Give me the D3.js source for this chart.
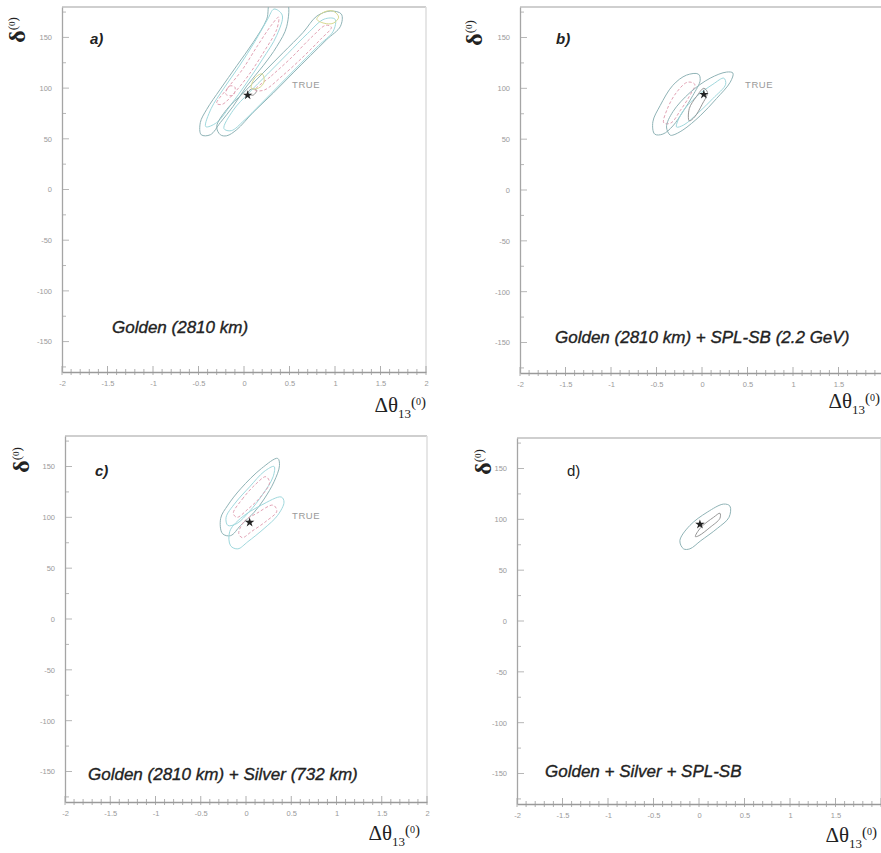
<!DOCTYPE html>
<html><head><meta charset="utf-8">
<script src="https://cdn.jsdelivr.net/npm/d3@7"></script>
<style>body{margin:0;background:#fff} svg{display:block}</style>
</head><body><svg id="c" width="881" height="853"></svg>
<script>
// ---------------- DATA ----------------
const xTicks = [-2, -1.5, -1, -0.5, 0, 0.5, 1, 1.5, 2];
const xTickLabels = ["-2", "-1.5", "-1", "-0.5", "0", "0.5", "1", "1.5", "2"];
const yTicks = [-150, -100, -50, 0, 50, 100, 150];
const yTickLabels = ["-150", "-100", "-50", "0", "50", "100", "150"];
const panelLabels = ["a)", "b)", "c)", "d)"];
const captions = ["Golden (2810 km)", "Golden (2810 km)  + SPL-SB (2.2 GeV)",
                  "Golden (2810 km) + Silver (732 km)", "Golden + Silver + SPL-SB"];
const truePoints = [[0.04, 93], [0.02, 94], [0.04, 95], [0.01, 95]];
const trueLabel = ["TRUE", "TRUE", "TRUE", ""];

// contour curves [Δθ13, δ]
const aLeftOuter = [[-0.47,54],[-0.48,66],[-0.41,79],[-0.26,99],[-0.08,122],[0.10,145],[0.25,168],[0.29,185],[0.47,185],[0.47,161],[0.36,141],[0.21,122],[0.03,102],[-0.12,82],[-0.26,66],[-0.37,54]];
const aLeftMid = [[-0.42,62],[-0.36,80],[-0.22,100],[-0.05,122],[0.12,146],[0.26,168],[0.33,178],[0.42,172],[0.36,152],[0.20,128],[0.02,104],[-0.14,84],[-0.30,66]];
const aLeftInner = [[-0.30,85],[-0.18,100],[-0.02,118],[0.15,142],[0.30,162],[0.38,170],[0.36,158],[0.22,136],[0.06,114],[-0.10,96],[-0.24,84]];
const aLoop1 = [[-0.20,94],[-0.16,102],[-0.10,101],[-0.12,93]];
const aLoop2 = [[0.04,95],[0.08,99],[0.14,98],[0.10,93]];
const aRightOuter = [[-0.26,54],[-0.30,62],[-0.19,79],[-0.01,95],[0.21,115],[0.43,135],[0.65,155],[0.80,171],[0.95,176],[1.07,173],[1.06,161],[0.91,148],[0.73,132],[0.54,115],[0.32,95],[0.10,76],[-0.08,59],[-0.19,53]];
const aRightMid = [[-0.22,60],[-0.12,78],[0.05,95],[0.26,114],[0.48,134],[0.70,154],[0.88,168],[1.00,168],[0.98,156],[0.82,142],[0.62,124],[0.40,104],[0.18,84],[0.00,68],[-0.14,58]];
const aRightInner = [[0.12,98],[0.30,112],[0.52,130],[0.74,150],[0.90,162],[0.96,160],[0.84,148],[0.64,130],[0.42,112],[0.22,98]];
const aYellowTop = [[0.80,168],[0.88,175],[0.98,176],[1.04,170],[0.98,164],[0.88,164]];
const aYellowMid = [[0.08,100],[0.12,110],[0.20,114],[0.22,106],[0.16,100]];

const bLeftOuter = [[-0.52,55],[-0.54,67],[-0.46,83],[-0.32,103],[-0.17,113],[-0.04,114],[-0.02,108],[-0.10,93],[-0.21,77],[-0.32,63],[-0.43,55]];
const bLeftInner = [[-0.42,66],[-0.38,80],[-0.28,96],[-0.16,106],[-0.08,104],[-0.14,92],[-0.24,78],[-0.34,66]];
const bRightOuter = [[-0.35,54],[-0.39,62],[-0.32,77],[-0.13,96],[0.09,110],[0.27,116],[0.34,115],[0.31,106],[0.16,90],[-0.02,73],[-0.21,59],[-0.32,54]];
const bRightMid = [[-0.28,62],[-0.22,76],[-0.06,92],[0.12,104],[0.24,110],[0.26,104],[0.12,90],[-0.04,76],[-0.20,64]];
const bRightInner = [[-0.14,68],[-0.14,80],[-0.06,92],[0.02,100],[0.06,96],[0.00,84],[-0.08,72]];

const cUpperOuter = [[-0.28,99],[-0.20,112],[-0.06,128],[0.17,148],[0.35,158],[0.37,151],[0.31,135],[0.20,118],[0.09,105],[-0.06,92],[-0.17,82],[-0.26,84]];
const cUpperMid = [[-0.22,100],[-0.12,114],[0.04,130],[0.20,145],[0.31,150],[0.30,140],[0.18,122],[0.04,106],[-0.10,94],[-0.20,92]];
const cUpperInner = [[-0.14,104],[-0.04,118],[0.10,132],[0.22,140],[0.26,134],[0.16,120],[0.02,108],[-0.10,100]];
const cLowerOuter = [[-0.17,72],[-0.18,86],[-0.06,99],[0.17,112],[0.39,120],[0.42,115],[0.35,102],[0.20,89],[0.02,76],[-0.09,69]];
const cLowerInner = [[-0.08,84],[-0.02,96],[0.12,104],[0.30,112],[0.34,106],[0.22,96],[0.06,86],[-0.04,80]];

const dOuter = [[-0.17,71],[-0.21,79],[-0.10,94],[0.09,107],[0.27,115],[0.34,113],[0.33,102],[0.20,91],[0.02,79],[-0.10,71]];
const dInner = [[-0.04,83],[0.02,92],[0.16,102],[0.23,106],[0.23,101],[0.12,92],[0.00,84]];

const panelContours = [
  [["outer", aLeftOuter], ["mid", aLeftMid], ["inner", aLeftInner], ["inner", aLoop1], ["dark", aLoop2],
   ["outer", aRightOuter], ["mid", aRightMid], ["inner", aRightInner], ["yellow", aYellowTop], ["yellow", aYellowMid]],
  [["outer", bLeftOuter], ["inner", bLeftInner], ["outer", bRightOuter], ["mid", bRightMid], ["dark", bRightInner]],
  [["outer", cUpperOuter], ["mid", cUpperMid], ["inner", cUpperInner], ["mid", cLowerOuter], ["inner", cLowerInner]],
  [["outer", dOuter], ["dark", dInner]]
];

// ---------------- LAYOUT / STYLE ----------------
const panels = [
  {x0: 62, x1: 426, y0: 372, y1: 7, lab: [90, 44], cap: [112, 333], tru: [292, 88],
   yt: [25, 30], xt: [426, 412]},
  {x0: 520, x1: 884, y0: 373, y1: 7, lab: [556, 44], cap: [555, 343], tru: [745, 88],
   yt: [482, 33], xt: [880, 408]},
  {x0: 65, x1: 427, y0: 802, y1: 436, lab: [95, 476], cap: [88, 780], tru: [292, 519],
   yt: [29, 460], xt: [420, 840]},
  {x0: 517, x1: 881, y0: 804, y1: 438, lab: [567, 476], cap: [545, 777], tru: [0, 0],
   yt: [491, 462], xt: [877, 842]}
];
const styles = {
  outer: {stroke: "#8fb3b6", dash: null, w: 1},
  mid: {stroke: "#9fd8dd", dash: null, w: 1},
  inner: {stroke: "#e2a2b4", dash: "3,2", w: 1},
  yellow: {stroke: "#d7d98f", dash: null, w: 1},
  dark: {stroke: "#8a8a8a", dash: null, w: 0.9}
};

const svg = d3.select("#c");

panels.forEach((p, i) => {
  const x = d3.scaleLinear().domain([-2, 2]).range([p.x0, p.x1]);
  const y = d3.scaleLinear().domain([-180, 180]).range([p.y0, p.y1]);
  const g = svg.append("g");

  const clipId = "clip" + i;
  svg.append("clipPath").attr("id", clipId).append("rect")
    .attr("x", p.x0).attr("y", p.y1).attr("width", p.x1 - p.x0).attr("height", p.y0 - p.y1);

  // frame (top and right, light)
  g.append("line").attr("x1", p.x0).attr("x2", p.x1).attr("y1", p.y1).attr("y2", p.y1)
    .attr("stroke", "#cfcfcf").attr("stroke-width", 2);
  g.append("line").attr("x1", p.x1).attr("x2", p.x1).attr("y1", p.y1).attr("y2", p.y0)
    .attr("stroke", "#dedede").attr("stroke-width", 1.5);

  // x axis
  const xa = d3.axisBottom(x).tickValues(xTicks.filter(v => x(v) < 878)).tickSize(0).tickPadding(9)
    .tickFormat(d => xTickLabels[xTicks.indexOf(d)]);
  const gx = g.append("g").attr("transform", `translate(0,${p.y0})`).call(xa);
  gx.select(".domain").attr("stroke", "#9a9a9a").attr("stroke-width", 1.3);
  gx.selectAll("text").attr("fill", "#9a9a9a").attr("font-size", 7.5)
    .attr("font-family", "Liberation Sans, Arial, sans-serif");
  const minorX = d3.range(-20, 21).map(v => v / 10);
  gx.selectAll(".mx").data(minorX).enter().append("line")
    .attr("x1", d => x(d)).attr("x2", d => x(d))
    .attr("y1", d => Math.abs(d * 2 - Math.round(d * 2)) < 1e-6 ? -6 : -3)
    .attr("y2", 3).attr("stroke", "#9a9a9a").attr("stroke-width", 0.8);

  // y axis
  const ya = d3.axisLeft(y).tickValues(yTicks).tickSize(0).tickPadding(10)
    .tickFormat((d, k) => yTickLabels[k]);
  const gy = g.append("g").attr("transform", `translate(${p.x0},0)`).call(ya);
  gy.select(".domain").attr("stroke", "#a5a5a5").attr("stroke-width", 1.3);
  gy.selectAll("text").attr("fill", "#9a9a9a").attr("font-size", 7.5)
    .attr("font-family", "Liberation Sans, Arial, sans-serif");
  const minorY = d3.range(-175, 176, 25);
  gy.selectAll(".my").data(minorY).enter().append("line")
    .attr("y1", d => y(d)).attr("y2", d => y(d)).attr("x1", 0)
    .attr("x2", d => d % 50 === 0 ? 7 : 4).attr("stroke", "#a5a5a5").attr("stroke-width", 0.8);

  // contours
  const line = d3.line().x(d => x(d[0])).y(d => y(d[1])).curve(d3.curveCatmullRomClosed.alpha(0.5));
  const cg = g.append("g").attr("clip-path", `url(#${clipId})`);
  panelContours[i].forEach(([kind, pts]) => {
    const s = styles[kind];
    cg.append("path").attr("d", line(pts)).attr("fill", "none")
      .attr("stroke", s.stroke).attr("stroke-width", s.w)
      .attr("stroke-dasharray", s.dash);
  });

  // true point
  cg.append("path").attr("d", d3.symbol(d3.symbolStar, 28)())
    .attr("transform", `translate(${x(truePoints[i][0])},${y(truePoints[i][1])})`)
    .attr("fill", "#222");
  if (trueLabel[i]) {
    g.append("text").attr("x", p.tru[0]).attr("y", p.tru[1]).text(trueLabel[i])
      .attr("font-family", "Liberation Sans, Arial, sans-serif").attr("font-size", 9.5)
      .attr("fill", "#9a9a9a").attr("letter-spacing", 0.6);
  }

  // panel label
  g.append("text").attr("x", p.lab[0]).attr("y", p.lab[1]).text(panelLabels[i])
    .attr("font-family", "Liberation Sans, Arial, sans-serif").attr("font-size", 15)
    .attr("font-style", i === 3 ? "normal" : "italic").attr("font-weight", i === 3 ? "normal" : "bold")
    .attr("fill", "#222");

  // caption
  g.append("text").attr("x", p.cap[0]).attr("y", p.cap[1]).text(captions[i])
    .attr("font-family", "Liberation Sans, Arial, sans-serif").attr("font-size", 17)
    .attr("font-style", "italic").attr("fill", "#222")
    .attr("stroke", "#222").attr("stroke-width", 0.35);

  // y title δ(0)
  const yt = g.append("text").attr("transform", `translate(${p.yt[0]},${p.yt[1]}) rotate(-90)`)
    .attr("text-anchor", "middle").attr("font-family", "Liberation Serif, Times New Roman, serif")
    .attr("fill", "#222");
  yt.append("tspan").text("δ").attr("font-size", 24).attr("font-weight", "bold");
  yt.append("tspan").text("(").attr("font-size", 13).attr("dy", -8);
  yt.append("tspan").text("0").attr("font-size", 9).attr("dy", -2);
  yt.append("tspan").text(")").attr("font-size", 13).attr("dy", 2);

  // x title Δθ13(0)
  const xt = g.append("text").attr("x", p.xt[0]).attr("y", p.xt[1]).attr("text-anchor", "end")
    .attr("font-family", "Liberation Serif, Times New Roman, serif").attr("fill", "#222");
  xt.append("tspan").text("Δθ").attr("font-size", 21);
  xt.append("tspan").text("13").attr("font-size", 13).attr("dy", 6);
  xt.append("tspan").text("(").attr("font-size", 15).attr("dy", -11);
  xt.append("tspan").text("0").attr("font-size", 10).attr("dy", -2);
  xt.append("tspan").text(")").attr("font-size", 15).attr("dy", 2);
});
</script>
</body></html>
